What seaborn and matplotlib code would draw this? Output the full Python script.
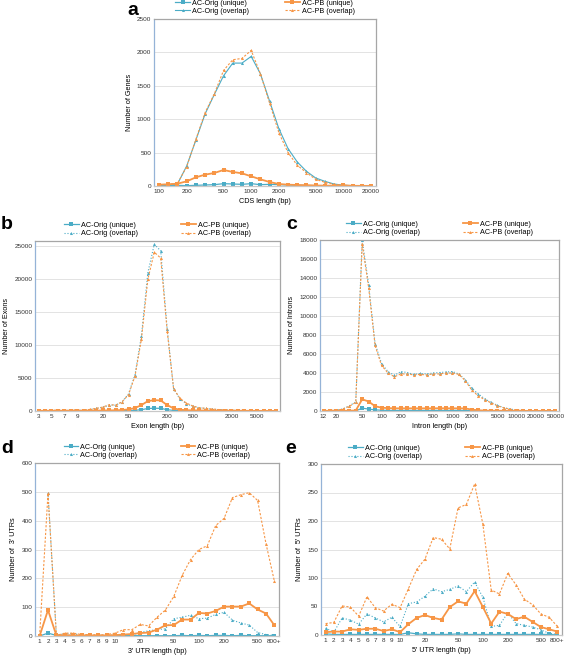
import numpy as np
import pandas as pd
import seaborn as sns
import matplotlib.pyplot as plt

### DATA
# category labels (blank = bin without a printed label)
cds_bins = ['100', '', '', '200', '', '', '', '500', '', '', '1000', '', '', '2000', '', '', '',
            '5000', '', '', '10000', '', '', '20000']
cds_orig_u = [5, 5, 10, 5, 10, 15, 20, 35, 30, 25, 35, 20, 25, 20, 15, 10, 8, 5, 3, 2, 1, 1, 1, 1]
cds_orig_o = [10, 15, 30, 300, 690, 1080, 1370, 1650, 1840, 1840, 1940, 1680, 1270, 860, 560, 360,
              220, 120, 70, 30, 12, 5, 3, 2]
cds_pb_u = [20, 25, 35, 70, 130, 170, 195, 240, 210, 190, 145, 100, 60, 30, 20, 15, 12, 8, 5, 5,
            10, 3, 2, 2]
cds_pb_o = [20, 25, 40, 290, 700, 1100, 1380, 1730, 1890, 1910, 2030, 1680, 1240, 800, 500, 310,
            200, 100, 55, 25, 10, 5, 3, 2]

exon_bins = ['3', '', '5', '', '7', '', '9', '', '', '', '20', '', '', '', '50', '', '', '', '', '',
             '200', '', '', '', '500', '', '', '', '', '', '2000', '', '', '', '5000', '', '', '']
exon_orig_u = [5, 5, 5, 8, 5, 5, 8, 5, 10, 15, 20, 25, 30, 40, 60, 100, 200, 380, 420, 400, 200,
               80, 40, 25, 20, 15, 12, 10, 8, 6, 5, 4, 3, 3, 2, 2, 1, 1]
exon_orig_o = [50, 60, 70, 120, 80, 100, 130, 90, 220, 380, 560, 900, 880, 1400, 2600, 5500,
               11400, 21000, 25300, 24300, 12500, 3400, 1800, 1100, 700, 480, 380, 280, 200, 150,
               110, 80, 60, 45, 35, 25, 18, 12]
exon_pb_u = [30, 30, 30, 40, 30, 30, 40, 30, 50, 60, 80, 90, 110, 150, 250, 450, 900, 1500, 1650,
             1600, 900, 400, 200, 120, 100, 80, 70, 60, 50, 45, 40, 35, 30, 25, 20, 18, 15, 10]
exon_pb_o = [60, 70, 80, 150, 90, 120, 160, 100, 250, 400, 600, 950, 900, 1400, 2500, 5300, 10900,
             20000, 24100, 23200, 12200, 3400, 1900, 1200, 750, 500, 400, 300, 220, 160, 120, 90,
             70, 50, 40, 30, 20, 15]

intron_bins = ['12', '', '20', '', '', '', '50', '', '', '100', '', '', '200', '', '', '', '',
               '500', '', '', '1000', '', '', '2000', '', '', '', '5000', '', '', '10000', '', '',
               '20000', '', '', '50000']
intron_orig_u = [5, 5, 5, 5, 5, 10, 300, 200, 120, 80, 60, 60, 60, 60, 60, 60, 60, 60, 60, 60, 60,
                 60, 50, 30, 10, 10, 8, 6, 5, 4, 3, 2, 2, 1, 1, 1, 1]
intron_orig_o = [30, 50, 80, 220, 550, 950, 18000, 13300, 7100, 5000, 4150, 3750, 4150, 4050, 3850,
                 3950, 3900, 4000, 4050, 4100, 4150, 3900, 3300, 2400, 1800, 1300, 900, 600, 350,
                 200, 100, 60, 40, 20, 10, 5, 3]
intron_pb_u = [20, 20, 20, 20, 30, 50, 1230, 1000, 500, 350, 300, 280, 280, 280, 280, 280, 280,
               280, 290, 280, 280, 280, 270, 150, 80, 40, 30, 25, 20, 15, 12, 10, 8, 6, 5, 4, 3]
intron_pb_o = [30, 50, 80, 200, 500, 900, 17600, 13000, 6900, 4800, 4000, 3600, 3900, 3900, 3800,
               3850, 3800, 3900, 3900, 4000, 4000, 3850, 3200, 2200, 1600, 1200, 850, 550, 330,
               180, 90, 50, 30, 15, 8, 4, 2]

utr_bins = ['1', '2', '3', '4', '5', '6', '7', '8', '9', '10', '', '', '20', '', '', '', '50', '',
            '', '100', '', '', '200', '', '', '', '500', '', '800+']
utr3_orig_u = [0, 10, 2, 2, 2, 1, 1, 1, 1, 1, 2, 2, 1, 1, 1, 1, 1, 2, 1, 2, 1, 2, 2, 1, 2, 1, 1, 1, 1]
utr3_orig_o = [np.nan, 495, 3, 8, 8, 3, 3, 3, 3, 3, 5, 5, 12, 18, 22, 25, 60, 65, 72, 60, 62, 75,
               82, 55, 45, 38, 12, 5, 2]
utr3_pb_u = [0, 90, 2, 3, 2, 2, 2, 2, 2, 3, 5, 7, 10, 12, 22, 37, 38, 57, 57, 80, 78, 87, 102,
             102, 102, 113, 92, 78, 37]
utr3_pb_o = [0, 495, 2, 10, 10, 5, 5, 3, 5, 10, 22, 22, 40, 35, 65, 90, 137, 210, 265, 300, 313,
             383, 408, 480, 490, 497, 470, 320, 190]

utr5_orig_u = [2, 1, 1, 1, 1, 1, 1, 1, 1, 1, 4, 2, 1, 1, 1, 1, 2, 1, 1, 1, 1, 1, 1, 1, 1, 1, 1, 1, 0]
utr5_orig_o = [12, 5, 30, 26, 19, 37, 30, 23, 31, 15, 55, 58, 68, 81, 76, 80, 86, 76, 93, 66, 15,
               17, 39, 20, 17, 14, 9, 3, 1]
utr5_pb_u = [5, 6, 6, 10, 9, 11, 11, 7, 10, 5, 19, 30, 35, 30, 27, 49, 59, 55, 77, 49, 20, 41, 37,
             28, 32, 23, 14, 10, 6]
utr5_pb_o = [20, 22, 51, 49, 33, 67, 48, 42, 54, 48, 81, 115, 133, 171, 168, 151, 223, 229, 265,
             194, 79, 72, 108, 88, 63, 53, 37, 31, 15]

BLUE = '#4bacc6'
ORANGE = '#f79646'

plt.rcParams['font.family'] = ['Liberation Sans', 'DejaVu Sans']


def draw_panel(ax, bins, ou, oo, pu, po, ymax, ystep, xlabel, ylabel,
               orig_o_style=':', colspace=6.0):
    x = np.arange(len(bins))
    sns.lineplot(x=x, y=ou, ax=ax, color=BLUE, lw=0.9, marker='s', markersize=2.2,
                 markeredgewidth=0, label='AC-Orig (unique)')
    sns.lineplot(x=x, y=oo, ax=ax, color=BLUE, lw=0.8, linestyle=orig_o_style, marker='^',
                 markersize=2.2, markeredgewidth=0, label='AC-Orig (overlap)')
    sns.lineplot(x=x, y=pu, ax=ax, color=ORANGE, lw=1.3, marker='s', markersize=2.2,
                 markeredgewidth=0, label='AC-PB (unique)')
    sns.lineplot(x=x, y=po, ax=ax, color=ORANGE, lw=0.8, linestyle=(0, (2, 1.5)), marker='^',
                 markersize=2.2, markeredgewidth=0, label='AC-PB (overlap)')

    ax.set_xlim(-0.55, len(bins) - 0.45)
    ax.set_ylim(0, ymax)
    ax.set_yticks(np.arange(0, ymax + 1, ystep))
    ticks = [i for i, b in enumerate(bins) if b]
    ax.set_xticks(ticks)
    ax.set_xticklabels([bins[i] for i in ticks])
    ax.tick_params(axis='both', length=0, labelsize=4.6, pad=2, colors='#333333')
    ax.yaxis.grid(True, color='#dedede', lw=0.6)
    ax.xaxis.grid(False)
    ax.set_axisbelow(True)
    ax.set_xlabel(xlabel, fontsize=5.2, labelpad=3)
    ax.set_ylabel(ylabel, fontsize=5.2, labelpad=3)

    ax.spines['left'].set_color('#95b3d7')
    ax.spines['bottom'].set_color('#c8c8c8')
    ax.spines['top'].set_color('#a6a6a6')
    ax.spines['right'].set_color('#a6a6a6')
    for s in ax.spines.values():
        s.set_linewidth(0.9)

    ax.legend(loc='lower center', bbox_to_anchor=(0.5, 1.0), ncol=2, frameon=False,
              fontsize=5.2, handlelength=2.0, handletextpad=0.3, columnspacing=colspace,
              labelspacing=0.15, borderaxespad=0.15)


fig = plt.figure(figsize=(5.67, 6.6), dpi=100)
W, H = 567, 660


def add_axes(l, t, r, b):
    return fig.add_axes([l / W, 1 - b / H, (r - l) / W, (b - t) / H])


ax_a = add_axes(154, 19, 376, 186)
ax_b = add_axes(35, 241, 280, 411)
ax_c = add_axes(320, 240, 559, 411)
ax_d = add_axes(35, 463, 279, 636)
ax_e = add_axes(321, 464, 562, 635)

draw_panel(ax_a, cds_bins, cds_orig_u, cds_orig_o, cds_pb_u, cds_pb_o, 2500, 500,
           'CDS length (bp)', 'Number of Genes', orig_o_style='-', colspace=5.0)
draw_panel(ax_b, exon_bins, exon_orig_u, exon_orig_o, exon_pb_u, exon_pb_o, 25800, 5000,
           'Exon length (bp)', 'Number of Exons')
draw_panel(ax_c, intron_bins, intron_orig_u, intron_orig_o, intron_pb_u, intron_pb_o, 18000, 2000,
           'Intron length (bp)', 'Number of Introns')
draw_panel(ax_d, utr_bins, utr3_orig_u, utr3_orig_o, utr3_pb_u, utr3_pb_o, 600, 100,
           "3' UTR length (bp)", "Number of  3' UTRs")
draw_panel(ax_e, utr_bins, utr5_orig_u, utr5_orig_o, utr5_pb_u, utr5_pb_o, 300, 50,
           "5' UTR length (bp)", "Number of  5' UTRs")

# panel letters (pixel positions, baseline)
for letter, px, py in [('a', 127, 15), ('b', 1, 229), ('c', 286, 229), ('d', 1, 453), ('e', 285, 453)]:
    fig.text(px / W, 1 - py / H, letter, fontsize=14, fontweight='bold', ha='left', va='baseline')

fig.savefig('out.png', dpi=100, facecolor='white')
